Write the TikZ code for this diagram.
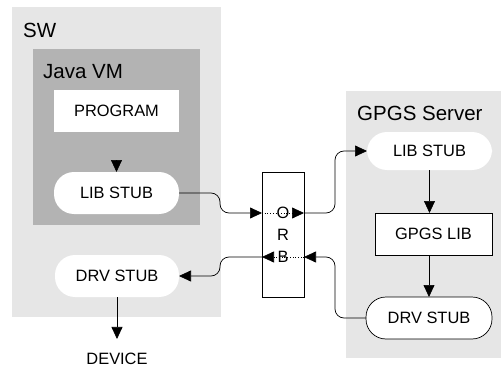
\documentclass[tikz,border=0pt]{standalone}
\usepackage{fontspec}
\setmainfont{Liberation Sans}
\usetikzlibrary{arrows.meta, positioning, calc}
\definecolor{hostgray}{HTML}{E6E6E6}
\definecolor{vmgray}{HTML}{B3B3B3}

\begin{document}
\begin{tikzpicture}[x=1pt, y=-1pt,
  area/.style={fill=hostgray, inner sep=0pt, outer sep=0pt, anchor=north west},
  title/.style={anchor=west, inner sep=0pt, font=\fontsize{20.5}{24}\selectfont},
  box/.style={fill=white, minimum width=125pt, minimum height=42pt, inner sep=0pt,
              outer sep=0pt, font=\fontsize{16.4}{20}\selectfont},
  stub/.style={box, rounded corners=20pt},
  arr/.style={-{Triangle[length=12pt, width=11pt]}, line width=0.7pt, black},
  link/.style={arr, rounded corners=9pt},
]
  \useasboundingbox (0,0) rectangle (501,369);

  % hosts
  \node[area, minimum width=209pt, minimum height=310pt] (sw) at (12,7) {};
  \node[area, fill=vmgray, minimum width=167pt, minimum height=176pt] (vm) at (33,49) {};
  \node[area, minimum width=155pt, minimum height=267pt] (srv) at (346,91) {};
  \node[title] (swlabel) at (23,30) {SW};
  \node[title] (vmlabel) at (43,72) {Java VM};
  \node[title] (srvlabel) at (357,113) {GPGS Server};

  % SW side
  \node[box] (prog) at (116.5,111) {PROGRAM};
  \node[stub] (lib1) at (116.5,193) {LIB STUB};
  \node[stub, minimum width=124pt] (drv1) at (117,276) {DRV STUB};
  \node[inner sep=0pt, inner ysep=14pt, font=\fontsize{16.4}{20}\selectfont] (dev) at (117,359) {DEVICE};

  % ORB
  \node[draw, fill=white, line width=0.7pt, minimum width=42pt, minimum height=125pt,
        align=center, inner sep=0pt, font=\fontsize{16.4}{22}\selectfont] (orb) at (283,234.5) {O\\R\\B};
  \coordinate (oinL) at (262,213);
  \coordinate (oinR) at (304,213);
  \coordinate (oretL) at (262,257);
  \coordinate (oretR) at (304,257);

  % server side
  \node[stub, minimum height=38pt] (lib2) at (429.5,151) {LIB STUB};
  \node[box, draw, line width=0.7pt, minimum width=117pt] (glib) at (433.5,234) {GPGS LIB};
  \node[stub, draw, line width=0.7pt, minimum width=126pt] (drv2) at (429,318) {DRV STUB};

  % connectors
  \coordinate (progtip) at (116.5,160);
  \draw[arr] (progtip) -- (lib1);
  \draw[arr] (drv1) -- (dev);
  \draw[link] (lib1.east) -- (220,193) -- (220,213) -- (oinL);
  \draw[arr, dotted] (oinL) -- (oinR);
  \draw[link] (oinR) -- (335,213) -- (335,151) -- (lib2.west);
  \draw[arr] (lib2.south) -- (lib2.south |- glib.north);
  \draw[arr] (drv2.north |- glib.south) -- (drv2.north);
  \draw[link] (drv2.west) -- (335,318) -- (335,257) -- (oretR);
  \draw[arr, dotted] (oretR) -- (oretL);
  \draw[link] (oretL) -- (220,257) -- (220,276) -- (drv1.east);
\end{tikzpicture}
\end{document}
